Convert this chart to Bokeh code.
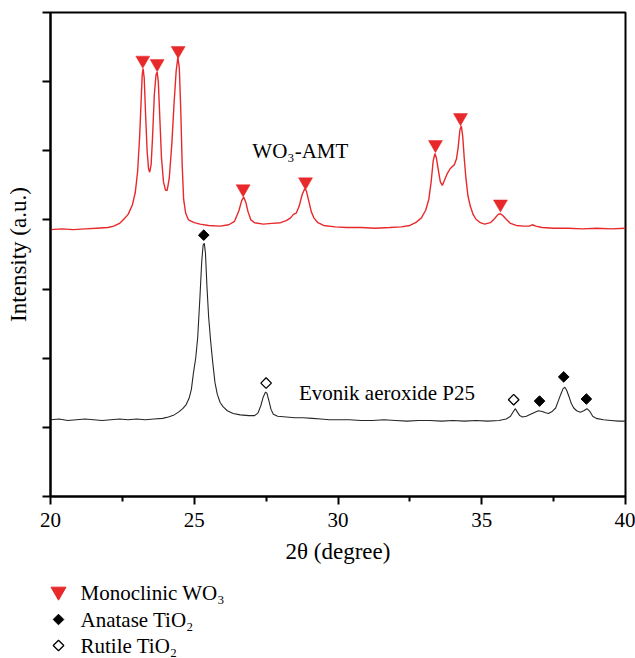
import math
from bokeh.plotting import figure
from bokeh.layouts import column
from bokeh.models import Range1d, FixedTicker
from bokeh.core.properties import value
from bokeh.embed import file_html
from bokeh.resources import INLINE

FONT = "Liberation Serif"
RED = "#e8292b"

# ---------------- data (2theta in degrees, intensity in arbitrary units) ----------------
wo3_theta = [20.00, 20.40, 20.80, 21.20, 21.60, 22.00, 22.20, 22.40, 22.55, 22.70, 22.85, 22.95,
             23.03, 23.10, 23.15, 23.19, 23.22, 23.26, 23.31, 23.36, 23.41, 23.45, 23.50, 23.55,
             23.61, 23.67, 23.71, 23.75, 23.80, 23.86, 23.93, 24.00, 24.06, 24.13, 24.22, 24.30,
             24.37, 24.43, 24.48, 24.53, 24.58, 24.63, 24.70, 24.80, 25.00, 25.20, 25.50, 25.90,
             26.20, 26.40, 26.55, 26.65, 26.72, 26.79, 26.87, 26.97, 27.10, 27.40, 27.70, 28.00,
             28.20, 28.35, 28.45, 28.55, 28.65, 28.75, 28.84, 28.90, 28.98, 29.07, 29.16, 29.30,
             29.50, 29.90, 30.30, 30.80, 31.30, 31.80, 32.20, 32.50, 32.70, 32.90, 33.05, 33.16,
             33.24, 33.31, 33.37, 33.42, 33.49, 33.56, 33.63, 33.70, 33.80, 33.90, 33.97, 34.05,
             34.12, 34.18, 34.24, 34.29, 34.34, 34.39, 34.45, 34.52, 34.60, 34.70, 34.80, 34.95,
             35.10, 35.30, 35.45, 35.57, 35.65, 35.74, 35.85, 36.00, 36.20, 36.45, 36.65, 36.76,
             36.88, 37.10, 37.50, 38.00, 38.50, 39.00, 39.50, 40.00]
wo3_int = [3.86, 3.87, 3.86, 3.87, 3.88, 3.89, 3.91, 3.95, 4.01, 4.08, 4.22, 4.40,
           4.70, 5.20, 5.70, 6.10, 6.19, 6.05, 5.50, 5.00, 4.74, 4.69, 4.80, 5.20,
           5.80, 6.10, 6.14, 6.00, 5.50, 4.90, 4.55, 4.43, 4.43, 4.60, 5.10, 5.70,
           6.15, 6.35, 6.20, 5.60, 4.80, 4.30, 4.10, 4.00, 3.96, 3.94, 3.92, 3.91,
           3.93, 3.98, 4.13, 4.28, 4.33, 4.26, 4.12, 4.00, 3.96, 3.94, 3.95, 3.96,
           3.99, 4.03, 4.08, 4.10, 4.20, 4.36, 4.45, 4.42, 4.28, 4.12, 4.03, 3.96,
           3.92, 3.90, 3.89, 3.89, 3.88, 3.89, 3.90, 3.92, 3.96, 4.03, 4.14, 4.30,
           4.55, 4.85, 4.96, 4.90, 4.72, 4.55, 4.50, 4.57, 4.67, 4.74, 4.77, 4.80,
           4.88, 5.05, 5.30, 5.36, 5.20, 4.90, 4.60, 4.35, 4.20, 4.08, 4.01, 3.96,
           3.94, 3.96, 4.02, 4.08, 4.09, 4.06, 4.01, 3.95, 3.92, 3.91, 3.91, 3.93,
           3.91, 3.89, 3.88, 3.88, 3.87, 3.88, 3.87, 3.88]

p25_theta = [20.00, 20.30, 20.60, 20.90, 21.20, 21.50, 21.80, 22.10, 22.40, 22.70, 23.00, 23.30,
             23.60, 23.90, 24.10, 24.30, 24.45, 24.60, 24.72, 24.82, 24.90, 24.97, 25.05, 25.12,
             25.20, 25.26, 25.31, 25.35, 25.39, 25.44, 25.50, 25.57, 25.64, 25.72, 25.80, 25.90,
             26.00, 26.15, 26.35, 26.60, 26.90, 27.10, 27.22, 27.32, 27.40, 27.48, 27.53, 27.60,
             27.67, 27.75, 27.90, 28.20, 28.50, 28.80, 29.10, 29.40, 29.70, 30.00, 30.40, 30.80,
             31.20, 31.60, 32.00, 32.40, 32.80, 33.20, 33.60, 34.00, 34.40, 34.80, 35.20, 35.60,
             35.85, 36.00, 36.10, 36.17, 36.24, 36.32, 36.42, 36.55, 36.70, 36.85, 36.97, 37.10,
             37.22, 37.32, 37.45, 37.57, 37.66, 37.75, 37.83, 37.89, 37.95, 38.03, 38.12, 38.20,
             38.30, 38.43, 38.55, 38.66, 38.76, 38.86, 38.98, 39.23, 39.50, 39.75, 40.00]
p25_int = [1.11, 1.12, 1.10, 1.11, 1.12, 1.11, 1.10, 1.11, 1.12, 1.11, 1.12, 1.11,
           1.12, 1.13, 1.15, 1.18, 1.22, 1.27, 1.33, 1.42, 1.55, 1.78, 2.00, 2.30,
           2.90, 3.40, 3.64, 3.66, 3.52, 3.05, 2.60, 2.25, 1.95, 1.65, 1.48, 1.36,
           1.30, 1.24, 1.20, 1.18, 1.17, 1.17, 1.21, 1.32, 1.44, 1.51, 1.49, 1.38,
           1.26, 1.19, 1.16, 1.15, 1.14, 1.14, 1.13, 1.12, 1.11, 1.11, 1.11, 1.10,
           1.10, 1.11, 1.10, 1.09, 1.10, 1.10, 1.09, 1.10, 1.09, 1.10, 1.09, 1.10,
           1.12, 1.16, 1.23, 1.27, 1.22, 1.17, 1.15, 1.16, 1.19, 1.22, 1.24, 1.23,
           1.21, 1.20, 1.23, 1.28, 1.38, 1.48, 1.56, 1.58, 1.54, 1.45, 1.34, 1.28,
           1.24, 1.22, 1.24, 1.27, 1.23, 1.16, 1.13, 1.11, 1.10, 1.09, 1.09]

# peak markers
wo3_peak_theta = [23.21, 23.71, 24.44, 26.70, 28.87, 33.39, 34.26, 35.65]
wo3_peak_int = [6.31, 6.26, 6.45, 4.45, 4.55, 5.09, 5.48, 4.23]
anatase_theta = [25.33, 37.01, 37.85, 38.64]
anatase_int = [3.78, 1.38, 1.73, 1.41]
rutile_theta = [27.50, 36.11]
rutile_int = [1.64, 1.40]

x_ticks = [20, 25, 30, 35, 40]
x_minor = [22.5, 27.5, 32.5, 37.5]
y_ticks = [0, 1, 2, 3, 4, 5, 6, 7]

sample_labels = ["WO\u2083-AMT", "Evonik aeroxide P25"]
sample_label_x = [27.02, 28.64]
sample_label_y = [5.00, 1.495]
legend_labels = ["Monoclinic WO\u2083", "Anatase TiO\u2082", "Rutile TiO\u2082"]

# ---------------- main plot ----------------
W = 635
H1 = 567
FL, FR = 50, 625          # frame left / right in page pixels
p = figure(width=W, height=H1, x_range=Range1d(20, 40), y_range=Range1d(0, 7),
           toolbar_location=None, output_backend="svg",
           min_border_left=FL, min_border_right=W - FR, min_border_top=12,
           min_border_bottom=H1 - 496)
p.grid.visible = False
p.outline_line_color = "black"
p.outline_line_width = 2
p.background_fill_color = "white"
p.border_fill_color = "white"

p.xaxis.ticker = FixedTicker(ticks=x_ticks, minor_ticks=x_minor)
p.yaxis.ticker = FixedTicker(ticks=y_ticks, minor_ticks=[])
for ax in (p.xaxis, p.yaxis):
    ax.axis_line_width = 2
    ax.axis_line_color = "black"
    ax.major_tick_line_width = 2
    ax.minor_tick_line_width = 2
    ax.major_tick_in = 0
    ax.major_tick_out = 8
    ax.minor_tick_in = 0
    ax.minor_tick_out = 5
    ax.major_label_text_font = FONT
    ax.axis_label_text_font = FONT
    ax.axis_label_text_font_style = "normal"
    ax.axis_label_text_font_size = "23px"
    ax.axis_label_text_color = "black"
    ax.major_label_text_color = "black"

p.xaxis.major_label_text_font_size = "21px"
p.xaxis.major_label_standoff = 8
p.xaxis.axis_label = "2\u03b8 (degree)"
p.xaxis.axis_label_standoff = 9

p.yaxis.major_label_overrides = {t: "" for t in y_ticks}
p.yaxis.major_label_text_font_size = "1px"
p.yaxis.major_label_standoff = 0
p.yaxis.axis_label = "Intensity (a.u.)"
p.yaxis.axis_label_standoff = 12

p.line(wo3_theta, wo3_int, line_color=RED, line_width=1.4)
p.line(p25_theta, p25_int, line_color="#262626", line_width=1.1)

p.scatter(wo3_peak_theta, wo3_peak_int, marker="inverted_triangle", size=14,
          fill_color=RED, line_color=RED, line_width=0.5)
p.scatter(anatase_theta, anatase_int, marker="square", angle=math.pi / 4, size=7.5,
          fill_color="black", line_color="black", line_width=1)
p.scatter(rutile_theta, rutile_int, marker="square", angle=math.pi / 4, size=7.5,
          fill_color="white", line_color="black", line_width=1.3)

p.text(x=sample_label_x, y=sample_label_y, text=sample_labels,
       text_font=value(FONT), text_font_size="21px", text_color="black",
       text_baseline="alphabetic", text_align="left")

# ---------------- legend strip (coordinates = page pixels) ----------------
H2 = 658 - H1
leg = figure(width=W, height=H2, x_range=Range1d(FL, FR), y_range=Range1d(658, H1),
             toolbar_location=None, output_backend="svg",
             min_border_left=FL, min_border_right=W - FR, min_border_top=0, min_border_bottom=0)
leg.axis.visible = False
leg.grid.visible = False
leg.outline_line_color = None

row_y = [592, 619, 645]
mark_x = [58, 58, 58]
text_x = [80, 80, 80]
leg.scatter([mark_x[0]], [row_y[0] - 1], marker="inverted_triangle", size=15,
            fill_color=RED, line_color=RED)
leg.scatter([mark_x[1]], [row_y[1]], marker="square", angle=math.pi / 4, size=7.5,
            fill_color="black", line_color="black")
leg.scatter([mark_x[2]], [row_y[2]], marker="square", angle=math.pi / 4, size=7.5,
            fill_color="white", line_color="black", line_width=1.3)
leg.text(x=text_x, y=row_y, text=legend_labels, text_font=value(FONT),
         text_font_size="21px", text_color="black", text_baseline="middle", text_align="left")

layout = column(p, leg, spacing=0)
open("out.html", "w").write(file_html(layout, INLINE))
